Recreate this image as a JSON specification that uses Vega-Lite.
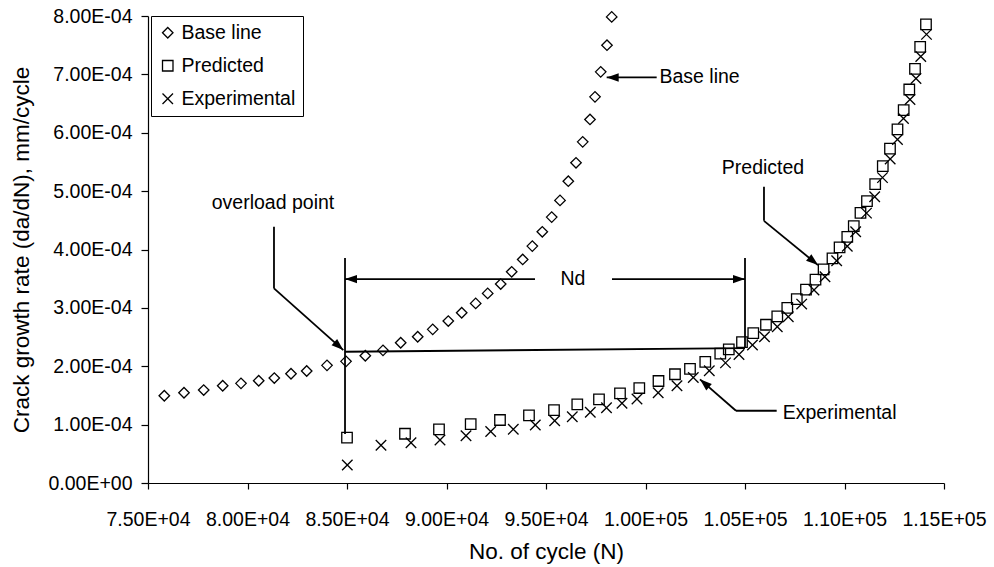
{
  "$schema": "https://vega.github.io/schema/vega-lite/v6.json",
  "width": 796,
  "height": 467,
  "padding": {"left": 148, "top": 16, "right": 50, "bottom": 84},
  "autosize": {"type": "none"},
  "background": "white",
  "config": {
    "font": "Liberation Sans",
    "view": {"stroke": null},
    "axis": {
      "grid": false,
      "domainColor": "black",
      "tickColor": "black",
      "labelColor": "black",
      "titleColor": "black",
      "labelFontSize": 19.5,
      "titleFontSize": 22.5,
      "titleFontWeight": "normal",
      "domainWidth": 1.2,
      "tickWidth": 1.2,
      "labelOverlap": false,
      "labelFlush": false
    }
  },
  "datasets": {
    "points": [
      {"N": 75819, "rate": 0.0001495, "series": "Base line"},
      {"N": 76809, "rate": 0.0001546, "series": "Base line"},
      {"N": 77799, "rate": 0.0001592, "series": "Base line"},
      {"N": 78754, "rate": 0.0001666, "series": "Base line"},
      {"N": 79673, "rate": 0.0001707, "series": "Base line"},
      {"N": 80563, "rate": 0.0001752, "series": "Base line"},
      {"N": 81347, "rate": 0.0001798, "series": "Base line"},
      {"N": 82186, "rate": 0.0001872, "series": "Base line"},
      {"N": 82975, "rate": 0.0001918, "series": "Base line"},
      {"N": 83995, "rate": 0.0002015, "series": "Base line"},
      {"N": 84950, "rate": 0.0002084, "series": "Base line"},
      {"N": 85920, "rate": 0.000218, "series": "Base line"},
      {"N": 86809, "rate": 0.0002272, "series": "Base line"},
      {"N": 87698, "rate": 0.0002402, "series": "Base line"},
      {"N": 88553, "rate": 0.0002505, "series": "Base line"},
      {"N": 89307, "rate": 0.0002632, "series": "Base line"},
      {"N": 90090, "rate": 0.0002774, "series": "Base line"},
      {"N": 90764, "rate": 0.0002916, "series": "Base line"},
      {"N": 91467, "rate": 0.0003077, "series": "Base line"},
      {"N": 92070, "rate": 0.0003248, "series": "Base line"},
      {"N": 92724, "rate": 0.0003408, "series": "Base line"},
      {"N": 93276, "rate": 0.0003618, "series": "Base line"},
      {"N": 93829, "rate": 0.000383, "series": "Base line"},
      {"N": 94312, "rate": 0.0004058, "series": "Base line"},
      {"N": 94814, "rate": 0.0004303, "series": "Base line"},
      {"N": 95286, "rate": 0.0004555, "series": "Base line"},
      {"N": 95704, "rate": 0.0004841, "series": "Base line"},
      {"N": 96121, "rate": 0.000517, "series": "Base line"},
      {"N": 96508, "rate": 0.0005485, "series": "Base line"},
      {"N": 96844, "rate": 0.0005844, "series": "Base line"},
      {"N": 97211, "rate": 0.0006228, "series": "Base line"},
      {"N": 97462, "rate": 0.0006615, "series": "Base line"},
      {"N": 97749, "rate": 0.0007043, "series": "Base line"},
      {"N": 98065, "rate": 0.00075, "series": "Base line"},
      {"N": 98302, "rate": 0.0007985, "series": "Base line"},
      {"N": 85000, "rate": 0.0000776, "series": "Predicted"},
      {"N": 87914, "rate": 0.0000844, "series": "Predicted"},
      {"N": 89623, "rate": 0.000092, "series": "Predicted"},
      {"N": 91216, "rate": 0.000101, "series": "Predicted"},
      {"N": 92688, "rate": 0.0001079, "series": "Predicted"},
      {"N": 94145, "rate": 0.0001159, "series": "Predicted"},
      {"N": 95402, "rate": 0.000125, "series": "Predicted"},
      {"N": 96572, "rate": 0.0001348, "series": "Predicted"},
      {"N": 97663, "rate": 0.0001433, "series": "Predicted"},
      {"N": 98718, "rate": 0.0001536, "series": "Predicted"},
      {"N": 99688, "rate": 0.0001627, "series": "Predicted"},
      {"N": 100653, "rate": 0.0001747, "series": "Predicted"},
      {"N": 101482, "rate": 0.0001863, "series": "Predicted"},
      {"N": 102236, "rate": 0.0001955, "series": "Predicted"},
      {"N": 103004, "rate": 0.0002075, "series": "Predicted"},
      {"N": 103758, "rate": 0.0002217, "series": "Predicted"},
      {"N": 104185, "rate": 0.0002289, "series": "Predicted"},
      {"N": 104849, "rate": 0.0002414, "series": "Predicted"},
      {"N": 105416, "rate": 0.0002568, "series": "Predicted"},
      {"N": 106055, "rate": 0.0002711, "series": "Predicted"},
      {"N": 106622, "rate": 0.0002854, "series": "Predicted"},
      {"N": 107125, "rate": 0.0003, "series": "Predicted"},
      {"N": 107602, "rate": 0.0003151, "series": "Predicted"},
      {"N": 108065, "rate": 0.0003312, "series": "Predicted"},
      {"N": 108542, "rate": 0.0003483, "series": "Predicted"},
      {"N": 108949, "rate": 0.0003659, "series": "Predicted"},
      {"N": 109396, "rate": 0.0003848, "series": "Predicted"},
      {"N": 109753, "rate": 0.0004036, "series": "Predicted"},
      {"N": 110140, "rate": 0.0004217, "series": "Predicted"},
      {"N": 110466, "rate": 0.0004401, "series": "Predicted"},
      {"N": 110803, "rate": 0.0004627, "series": "Predicted"},
      {"N": 111130, "rate": 0.0004829, "series": "Predicted"},
      {"N": 111542, "rate": 0.000512, "series": "Predicted"},
      {"N": 111924, "rate": 0.0005428, "series": "Predicted"},
      {"N": 112286, "rate": 0.0005728, "series": "Predicted"},
      {"N": 112662, "rate": 0.0006057, "series": "Predicted"},
      {"N": 112974, "rate": 0.0006387, "series": "Predicted"},
      {"N": 113255, "rate": 0.0006741, "series": "Predicted"},
      {"N": 113542, "rate": 0.0007094, "series": "Predicted"},
      {"N": 113803, "rate": 0.0007471, "series": "Predicted"},
      {"N": 114095, "rate": 0.0007856, "series": "Predicted"},
      {"N": 85015, "rate": 0.0000308, "series": "Experimental"},
      {"N": 86708, "rate": 0.0000646, "series": "Experimental"},
      {"N": 88216, "rate": 0.000069, "series": "Experimental"},
      {"N": 89673, "rate": 0.0000736, "series": "Experimental"},
      {"N": 90980, "rate": 0.000081, "series": "Experimental"},
      {"N": 92221, "rate": 0.0000882, "series": "Experimental"},
      {"N": 93356, "rate": 0.000092, "series": "Experimental"},
      {"N": 94462, "rate": 0.0000993, "series": "Experimental"},
      {"N": 95437, "rate": 0.0001067, "series": "Experimental"},
      {"N": 96321, "rate": 0.0001135, "series": "Experimental"},
      {"N": 97226, "rate": 0.0001211, "series": "Experimental"},
      {"N": 98040, "rate": 0.0001288, "series": "Experimental"},
      {"N": 98819, "rate": 0.0001365, "series": "Experimental"},
      {"N": 99572, "rate": 0.0001438, "series": "Experimental"},
      {"N": 100638, "rate": 0.0001546, "series": "Experimental"},
      {"N": 101582, "rate": 0.0001666, "series": "Experimental"},
      {"N": 102401, "rate": 0.0001807, "series": "Experimental"},
      {"N": 103205, "rate": 0.0001923, "series": "Experimental"},
      {"N": 104019, "rate": 0.0002058, "series": "Experimental"},
      {"N": 104698, "rate": 0.00022, "series": "Experimental"},
      {"N": 105376, "rate": 0.0002363, "series": "Experimental"},
      {"N": 105979, "rate": 0.0002505, "series": "Experimental"},
      {"N": 106622, "rate": 0.0002676, "series": "Experimental"},
      {"N": 107175, "rate": 0.0002848, "series": "Experimental"},
      {"N": 107848, "rate": 0.0003065, "series": "Experimental"},
      {"N": 108467, "rate": 0.0003305, "series": "Experimental"},
      {"N": 109019, "rate": 0.0003533, "series": "Experimental"},
      {"N": 109607, "rate": 0.0003807, "series": "Experimental"},
      {"N": 110140, "rate": 0.0004055, "series": "Experimental"},
      {"N": 110562, "rate": 0.0004303, "series": "Experimental"},
      {"N": 111105, "rate": 0.0004623, "series": "Experimental"},
      {"N": 111517, "rate": 0.0004903, "series": "Experimental"},
      {"N": 111909, "rate": 0.0005231, "series": "Experimental"},
      {"N": 112296, "rate": 0.0005551, "series": "Experimental"},
      {"N": 112662, "rate": 0.0005885, "series": "Experimental"},
      {"N": 112964, "rate": 0.0006245, "series": "Experimental"},
      {"N": 113291, "rate": 0.000657, "series": "Experimental"},
      {"N": 113592, "rate": 0.000693, "series": "Experimental"},
      {"N": 113833, "rate": 0.0007307, "series": "Experimental"},
      {"N": 114120, "rate": 0.0007685, "series": "Experimental"}
    ],
    "segments": [
      {"N": 84900, "rate": 0.0003853, "N2": 84900, "rate2": 0.0000839},
      {"N": 105000, "rate": 0.0003853, "N2": 105000, "rate2": 0.000233},
      {"N": 84900, "rate": 0.0002248, "N2": 105000, "rate2": 0.0002312},
      {"N": 84900, "rate": 0.0003493, "N2": 94447, "rate2": 0.0003493},
      {"N": 98316, "rate": 0.0003493, "N2": 105000, "rate2": 0.0003493},
      {"N": 81331, "rate": 0.0004389, "N2": 81331, "rate2": 0.0003334},
      {"N": 81331, "rate": 0.0003334, "N2": 84814, "rate2": 0.0002277},
      {"N": 98050, "rate": 0.0006947, "N2": 100562, "rate2": 0.0006947},
      {"N": 105954, "rate": 0.0005074, "N2": 105954, "rate2": 0.0004491},
      {"N": 105954, "rate": 0.0004491, "N2": 108668, "rate2": 0.0003733},
      {"N": 106592, "rate": 0.0001238, "N2": 104547, "rate2": 0.0001238},
      {"N": 104547, "rate": 0.0001238, "N2": 102738, "rate2": 0.0001776}
    ],
    "arrows": [
      {"N": 84900, "rate": 0.0003493, "angle": 0},
      {"N": 105000, "rate": 0.0003493, "angle": 180},
      {"N": 84814, "rate": 0.0002277, "angle": 221.7},
      {"N": 98050, "rate": 0.0006947, "angle": 0},
      {"N": 108668, "rate": 0.0003733, "angle": 219.4},
      {"N": 102738, "rate": 0.0001776, "angle": 41.1}
    ],
    "labelsCenter": [
      {"N": 81281, "rate": 0.0004795, "label": "overload point"},
      {"N": 105904, "rate": 0.0005399, "label": "Predicted"},
      {"N": 96356, "rate": 0.0003493, "label": "Nd"}
    ],
    "labelsLeft": [
      {"N": 100700, "rate": 0.0006947, "label": "Base line"},
      {"N": 106894, "rate": 0.0001204, "label": "Experimental"}
    ]
  },
  "encoding": {
    "x": {
      "field": "N",
      "type": "quantitative",
      "scale": {"domain": [75000, 115000], "nice": false, "zero": false},
      "axis": {
        "title": "No. of cycle (N)",
        "values": [75000, 80000, 85000, 90000, 95000, 100000, 105000, 110000, 115000],
        "labelExpr": "substring(format(datum.value,'.2e'),0,4)+'E'+substring(format(datum.value,'.2e'),5,6)+'0'+substring(format(datum.value,'.2e'),6)",
        "tickSize": 6,
        "labelPadding": 21,
        "titleY": 75,
        "titleBaseline": "alphabetic"
      }
    },
    "y": {
      "field": "rate",
      "type": "quantitative",
      "scale": {"domain": [0, 0.0008], "nice": false},
      "axis": {
        "title": "Crack growth rate (da/dN), mm/cycle",
        "values": [0, 0.0001, 0.0002, 0.0003, 0.0004, 0.0005, 0.0006, 0.0007, 0.0008],
        "labelExpr": "substring(format(datum.value,'.2e'),0,4)+'E'+substring(format(datum.value,'.2e'),5,6)+'0'+substring(format(datum.value,'.2e'),6)",
        "tickSize": 7,
        "labelPadding": 9,
        "titleX": -127,
        "titleY": 233.5,
        "titleBaseline": "middle"
      }
    }
  },
  "layer": [
    {
      "data": {"name": "points"},
      "mark": {"type": "point", "filled": false, "color": "black", "strokeWidth": 1.3, "opacity": 1, "size": 110},
      "encoding": {
        "shape": {
          "field": "series",
          "type": "nominal",
          "scale": {
            "domain": ["Base line", "Predicted", "Experimental"],
            "range": ["diamond", "square", "M-1,-1L1,1M1,-1L-1,1"]
          },
          "legend": {
            "title": null,
            "orient": "none",
            "legendX": 3,
            "legendY": 0,
            "strokeColor": "black",
            "fillColor": "white",
            "padding": 7,
            "labelFontSize": 19.5,
            "labelColor": "black",
            "labelOffset": 4,
            "rowPadding": 12,
            "symbolStrokeColor": "black",
            "symbolFillColor": "transparent",
            "symbolStrokeWidth": 1.3,
            "symbolSize": 110
          }
        }
      }
    },
    {
      "data": {"name": "segments"},
      "mark": {"type": "rule", "color": "black", "strokeWidth": 1.8},
      "encoding": {
        "x2": {"field": "N2"},
        "y2": {"field": "rate2"}
      }
    },
    {
      "data": {"name": "arrows"},
      "mark": {"type": "point", "filled": true, "color": "black", "opacity": 1, "shape": "M0,0L2,-0.7L2,0.7Z", "size": 144},
      "encoding": {
        "angle": {"field": "angle", "type": "quantitative", "scale": null}
      }
    },
    {
      "data": {"name": "labelsCenter"},
      "mark": {"type": "text", "color": "black", "fontSize": 19.5, "align": "center", "baseline": "middle"},
      "encoding": {"text": {"field": "label"}}
    },
    {
      "data": {"name": "labelsLeft"},
      "mark": {"type": "text", "color": "black", "fontSize": 19.5, "align": "left", "baseline": "middle"},
      "encoding": {"text": {"field": "label"}}
    }
  ]
}
